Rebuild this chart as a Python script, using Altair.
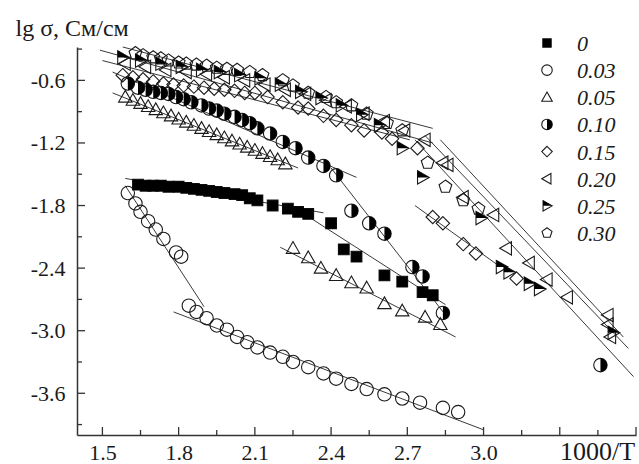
import altair as alt
import pandas as pd

series_names = ["0", "0.03", "0.05", "0.10", "0.15", "0.20", "0.25", "0.30"]

x_0 = [1.64,1.67,1.70,1.73,1.76,1.80,1.83,1.86,1.89,1.92,1.95,1.98,2.02,2.05,2.08,2.11,2.17,2.23,2.27,2.31,2.40,2.45,2.50,2.61,2.68,2.76,2.80]
y_0 = [-1.60,-1.61,-1.61,-1.61,-1.62,-1.62,-1.63,-1.64,-1.65,-1.66,-1.67,-1.68,-1.69,-1.70,-1.73,-1.75,-1.80,-1.83,-1.86,-1.88,-1.97,-2.22,-2.29,-2.47,-2.53,-2.63,-2.66]

x_003 = [1.60,1.63,1.65,1.68,1.71,1.74,1.79,1.81,1.84,1.87,1.91,1.95,1.99,2.03,2.07,2.11,2.16,2.21,2.25,2.31,2.37,2.42,2.48,2.54,2.61,2.68,2.75,2.84,2.90]
y_003 = [-1.68,-1.78,-1.86,-1.95,-2.03,-2.12,-2.25,-2.29,-2.76,-2.82,-2.88,-2.95,-2.99,-3.06,-3.11,-3.16,-3.21,-3.25,-3.30,-3.35,-3.41,-3.46,-3.51,-3.56,-3.61,-3.65,-3.69,-3.74,-3.78]

x_005 = [1.59,1.62,1.65,1.68,1.71,1.74,1.77,1.80,1.83,1.86,1.89,1.92,1.95,1.98,2.01,2.04,2.07,2.10,2.13,2.16,2.19,2.22,2.25,2.31,2.36,2.42,2.48,2.54,2.61,2.68,2.77,2.83]
y_005 = [-0.76,-0.79,-0.82,-0.85,-0.88,-0.91,-0.94,-0.97,-1.00,-1.03,-1.06,-1.09,-1.12,-1.15,-1.18,-1.21,-1.24,-1.27,-1.30,-1.33,-1.36,-1.40,-2.21,-2.30,-2.40,-2.47,-2.54,-2.59,-2.74,-2.81,-2.87,-2.94]

x_010 = [1.60,1.64,1.67,1.70,1.73,1.76,1.79,1.82,1.85,1.89,1.92,1.95,1.98,2.02,2.05,2.08,2.11,2.16,2.21,2.26,2.31,2.37,2.42,2.48,2.55,2.61,2.72,2.76,2.84,3.46]
y_010 = [-0.63,-0.67,-0.69,-0.71,-0.72,-0.73,-0.76,-0.78,-0.81,-0.84,-0.87,-0.89,-0.92,-0.95,-0.98,-1.01,-1.06,-1.11,-1.19,-1.25,-1.34,-1.42,-1.51,-1.85,-1.97,-2.07,-2.39,-2.48,-2.83,-3.33]

x_015 = [1.58,1.62,1.66,1.70,1.74,1.78,1.82,1.86,1.90,1.94,1.98,2.02,2.06,2.10,2.15,2.21,2.27,2.31,2.37,2.42,2.48,2.53,2.60,2.64,2.74,2.80,2.84,2.92,2.97,3.13]
y_015 = [-0.55,-0.57,-0.59,-0.61,-0.63,-0.64,-0.65,-0.66,-0.67,-0.68,-0.69,-0.70,-0.72,-0.72,-0.76,-0.81,-0.86,-0.87,-0.94,-0.98,-1.03,-1.08,-1.10,-1.16,-1.25,-1.91,-1.97,-2.17,-2.26,-2.50]

x_020 = [1.59,1.67,1.75,1.83,1.91,1.98,2.06,2.14,2.22,2.30,2.38,2.46,2.53,2.61,2.69,2.77,2.84,2.86,2.92,3.04,3.09,3.18,3.25,3.33,3.49,3.49,3.50]
y_020 = [-0.44,-0.47,-0.50,-0.52,-0.54,-0.57,-0.60,-0.64,-0.69,-0.73,-0.79,-0.85,-0.92,-0.99,-1.08,-1.17,-1.39,-1.41,-1.72,-1.89,-2.21,-2.35,-2.51,-2.68,-2.85,-2.94,-3.06]

x_025 = [1.58,1.65,1.73,1.81,1.89,1.96,2.04,2.12,2.20,2.28,2.36,2.44,2.52,2.59,2.68,2.76,2.99,3.07,3.10,3.18,3.22,3.51]
y_025 = [-0.38,-0.41,-0.44,-0.47,-0.50,-0.52,-0.55,-0.58,-0.64,-0.71,-0.77,-0.84,-0.93,-1.03,-1.25,-1.53,-1.92,-2.39,-2.44,-2.55,-2.60,-3.02]

x_030 = [1.63,1.66,1.70,1.73,1.76,1.80,1.83,1.87,1.91,1.95,1.99,2.03,2.08,2.13,2.21,2.25,2.31,2.38,2.42,2.48,2.54,2.62,2.68,2.78,2.85,2.92,2.98]
y_030 = [-0.34,-0.36,-0.38,-0.39,-0.41,-0.43,-0.44,-0.45,-0.46,-0.48,-0.49,-0.50,-0.52,-0.55,-0.60,-0.65,-0.72,-0.76,-0.81,-0.84,-0.92,-1.01,-1.08,-1.39,-1.62,-1.75,-1.83]

# fitted straight lines: start x, start y, end x, end y
fit_x_start = [1.58, 1.49, 1.50, 1.54, 1.54, 2.73, 2.77, 2.83, 2.73, 2.40, 1.59, 2.30, 2.20, 1.59, 1.78]
fit_y_start = [-0.28, -0.31, -0.41, -0.52, -0.72, -1.17, -1.13, -1.17, -1.80, -1.44, -1.54, -1.89, -2.20, -1.61, -2.82]
fit_x_end = [2.80, 2.80, 2.71, 2.50, 2.27, 3.59, 3.57, 3.55, 3.05, 2.86, 2.37, 2.85, 2.89, 1.90, 3.00]
fit_y_end = [-1.06, -1.20, -1.17, -1.53, -1.44, -3.44, -3.17, -3.06, -2.36, -2.88, -1.87, -2.75, -3.06, -2.77, -3.95]

x_major = [1.5, 1.8, 2.1, 2.4, 2.7, 3.0, 3.3, 3.6]
x_minor = [1.65, 1.95, 2.25, 2.55, 2.85, 3.15, 3.45]
x_labels = [1.5, 1.8, 2.1, 2.4, 2.7, 3.0]
y_major = [-0.6, -1.2, -1.8, -2.4, -3.0, -3.6]
y_minor = [-0.3, -0.9, -1.5, -2.1, -2.7, -3.3, -3.9]

xs = [x_0, x_003, x_005, x_010, x_015, x_020, x_025, x_030]
ys = [y_0, y_003, y_005, y_010, y_015, y_020, y_025, y_030]
rows = []
for name, xv, yv in zip(series_names, xs, ys):
    for a, b in zip(xv, yv):
        rows.append({"series": name, "x": a, "y": b})
pts = pd.DataFrame(rows)

fit_rows = []
for i in range(len(fit_x_start)):
    fit_rows.append({"id": i, "x": fit_x_start[i], "y": fit_y_start[i]})
    fit_rows.append({"id": i, "x": fit_x_end[i], "y": fit_y_end[i]})
fits = pd.DataFrame(fit_rows)

xt_major = pd.DataFrame({"x": x_major})
xt_minor = pd.DataFrame({"x": x_minor})
yt_major = pd.DataFrame({"y": y_major})
yt_minor = pd.DataFrame({"y": y_minor})
leg = pd.DataFrame({"series": series_names})

W, H = 559, 388
FONT = "Liberation Serif"
INK = "#1a1a1a"

xscale = alt.Scale(domain=[1.4, 3.6], nice=False, zero=False)
yscale = alt.Scale(domain=[-4.0, -0.28], nice=False, zero=False)

xaxis = alt.Axis(values=x_labels, format=".1f", ticks=False, tickSize=0, grid=False,
                 labelFont=FONT, labelFontSize=22, labelColor=INK, labelPadding=7,
                 domainColor="#333", domainWidth=1.5,
                 title="1000/T", titleFont=FONT, titleFontSize=26, titleFontWeight="normal",
                 titleColor=INK, titleX=520, titleY=16, titleAlign="center", titleBaseline="middle")
yaxis = alt.Axis(values=y_major, format=".1f", ticks=False, tickSize=0, grid=False,
                 labelFont=FONT, labelFontSize=22, labelColor=INK, labelPadding=12,
                 labelExpr="replace(datum.label, '\u2212', '-')",
                 domainColor="#333", domainWidth=1.5,
                 title="lg \u03c3, \u0421\u043c/\u0441\u043c", titleFont=FONT, titleFontSize=24,
                 titleFontWeight="normal", titleColor=INK, titleAngle=0, titleAlign="left",
                 titleBaseline="middle", titleX=-62, titleY=-19)

lines = alt.Chart(fits).mark_line(color="#3a3a3a", strokeWidth=1).encode(
    x=alt.X("x:Q", scale=xscale, axis=xaxis),
    y=alt.Y("y:Q", scale=yscale, axis=yaxis),
    detail="id:N",
)


def xtick_layer(df, length):
    return alt.Chart(df).mark_rule(color="#333", strokeWidth=1.3).encode(
        x=alt.X("x:Q", scale=xscale, axis=xaxis),
        y=alt.value(H),
        y2=alt.value(H - length),
    )


def ytick_layer(df, length):
    return alt.Chart(df).mark_rule(color="#333", strokeWidth=1.3).encode(
        y=alt.Y("y:Q", scale=yscale, axis=None),
        x=alt.value(0),
        x2=alt.value(length),
    )


open_paths = [
    "M-0.8,-0.8H0.8V0.8H-0.8Z",
    "M1,0A1,1 0 1,1 -1,0A1,1 0 1,1 1,0Z",
    "M0,-1L1,0.75L-1,0.75Z",
    "M1,0A1,1 0 1,1 -1,0A1,1 0 1,1 1,0Z",
    "M0,-1L1,0L0,1L-1,0Z",
    "M-1,0L0.75,-1L0.75,1Z",
    "M1,0L-0.75,-1L-0.75,1Z",
    "M0,-1L0.951,-0.309L0.588,0.809L-0.588,0.809L-0.951,-0.309Z",
]
fill_names = ["0", "0.10", "0.25"]
fill_paths = [
    "M-0.8,-0.8H0.8V0.8H-0.8Z",
    "M0,-1A1,1 0 0,1 0,1Z",
    "M-0.75,-1L1,0L-0.75,0Z",
]
open_shape = alt.Scale(domain=series_names, range=open_paths)
fill_shape = alt.Scale(domain=fill_names, range=fill_paths)

PT = 180
pts_open = alt.Chart(pts).mark_point(filled=False, color=INK, strokeWidth=1.1, size=PT, opacity=1).encode(
    x=alt.X("x:Q", scale=xscale, axis=xaxis),
    y=alt.Y("y:Q", scale=yscale, axis=None),
    shape=alt.Shape("series:N", scale=open_shape, legend=None),
)
pts_fill = alt.Chart(pts).transform_filter(
    alt.FieldOneOfPredicate(field="series", oneOf=fill_names)
).mark_point(filled=True, color="#000", strokeWidth=0, size=PT, opacity=1).encode(
    x=alt.X("x:Q", scale=xscale, axis=xaxis),
    y=alt.Y("y:Q", scale=yscale, axis=None),
    shape=alt.Shape("series:N", scale=fill_shape, legend=None),
)

leg_y = alt.Y("series:N", scale=alt.Scale(domain=series_names, range=[-4, 186], padding=0), axis=None)
leg_open = alt.Chart(leg).mark_point(filled=False, color=INK, strokeWidth=1.1, size=110, opacity=1).encode(
    x=alt.value(470), y=leg_y,
    shape=alt.Shape("series:N", scale=open_shape, legend=None),
)
leg_fill = alt.Chart(leg).transform_filter(
    alt.FieldOneOfPredicate(field="series", oneOf=fill_names)
).mark_point(filled=True, color="#000", strokeWidth=0, size=110, opacity=1).encode(
    x=alt.value(470), y=leg_y,
    shape=alt.Shape("series:N", scale=fill_shape, legend=None),
)
leg_text = alt.Chart(leg).mark_text(align="left", baseline="middle", font=FONT, fontSize=22,
                                    fontStyle="italic", color=INK, dy=1).encode(
    x=alt.value(500), y=leg_y, text="series:N",
)

chart = alt.layer(
    lines,
    xtick_layer(xt_major, 8), xtick_layer(xt_minor, 5),
    ytick_layer(yt_major, 8), ytick_layer(yt_minor, 5),
    pts_open, pts_fill, leg_open, leg_fill, leg_text,
).resolve_scale(
    y="independent", shape="independent"
).properties(
    width=W, height=H,
    autosize=alt.AutoSizeParams(type="none"),
    padding={"left": 77, "top": 47, "right": 3, "bottom": 29},
    background="white",
).configure_view(stroke=None)

chart.save("out.html", embed_options={"renderer": "svg", "actions": False})
